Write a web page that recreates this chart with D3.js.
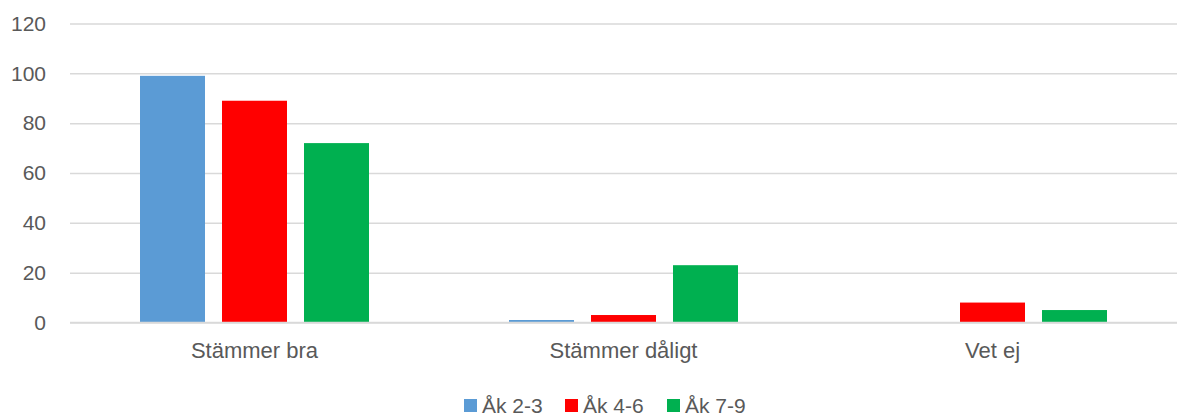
<!DOCTYPE html>
<html><head><meta charset="utf-8">
<script src="https://cdn.jsdelivr.net/npm/d3@7"></script>
<style>body{margin:0;background:#fff}svg{display:block}text{font-family:"Liberation Sans",Arial,sans-serif;fill:#595959}</style>
</head><body><svg id="c" width="1178" height="419"></svg>
<script>
const categories = ["Stämmer bra", "Stämmer dåligt", "Vet ej"];
const seriesNames = ["Åk 2-3", "Åk 4-6", "Åk 7-9"];
const seriesColors = ["#5B9BD5", "#FF0000", "#00B050"];
const ak23 = [99, 1, 0];
const ak46 = [89, 3, 8];
const ak79 = [72, 23, 5];
const yTicks = [0, 20, 40, 60, 80, 100, 120];

(function () {
const values = [ak23, ak46, ak79];
const svg = d3.select("#c");
const pLeft = 70, pRight = 1177, pTop = 23.5, pBottom = 322.5;
const fs = 21;

const y = d3.scaleLinear().domain([0, 120]).range([pBottom, pTop]);
const x0 = d3.scaleBand().domain(categories).range([pLeft, pRight]).padding(0);
const groupW = 229;
const x1 = d3.scaleBand().domain(seriesNames).range([0, groupW]).paddingInner(17/82).paddingOuter(0);

const yAxis = d3.axisLeft(y).tickValues(yTicks).tickSize(-(pRight - pLeft)).tickPadding(24);
const ga = svg.append("g").attr("transform", `translate(${pLeft},0)`).call(yAxis);
ga.select(".domain").remove();
ga.selectAll(".tick line").attr("stroke", "#D9D9D9").attr("stroke-width", 1.5);
ga.selectAll(".tick text").attr("font-size", fs).attr("fill", "#595959")
  .style("font-family", '"Liberation Sans",Arial,sans-serif');

seriesNames.forEach((s, si) => {
  svg.append("g").selectAll("rect").data(categories.map((c, ci) => ({c, v: values[si][ci]})))
    .join("rect")
    .attr("x", d => x0(d.c) + (x0.bandwidth() - groupW) / 2 + x1(s))
    .attr("width", x1.bandwidth())
    .attr("y", d => y(d.v))
    .attr("height", d => y(0) - y(d.v))
    .attr("fill", seriesColors[si]);
});

svg.append("line").attr("x1", pLeft).attr("x2", pRight).attr("y1", y(0)).attr("y2", y(0))
  .attr("stroke", "#D9D9D9").attr("stroke-width", 1.5);

const xAxis = d3.axisBottom(x0).tickSize(0).tickPadding(0);
const gx = svg.append("g").attr("transform", `translate(0,${pBottom})`).call(xAxis);
gx.select(".domain").remove();
gx.selectAll(".tick text").attr("font-size", 22).attr("dy", null).attr("y", 35.5).attr("fill", "#595959")
  .style("font-family", '"Liberation Sans",Arial,sans-serif');

const legendX = [464, 565, 667];
const lg = svg.append("g");
seriesNames.forEach((s, i) => {
  lg.append("rect").attr("x", legendX[i]).attr("y", 399).attr("width", 13).attr("height", 13).attr("fill", seriesColors[i]);
  lg.append("text").attr("x", legendX[i] + 18).attr("y", 413).attr("font-size", fs).text(s);
});
})();
</script></body></html>
